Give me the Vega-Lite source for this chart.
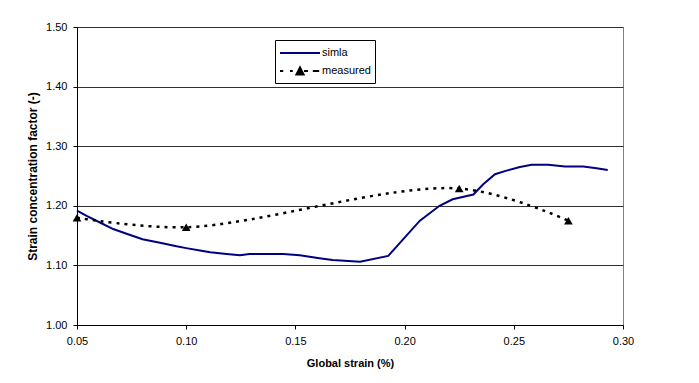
{
  "$schema": "https://vega.github.io/schema/vega-lite/v6.json",
  "width": 546,
  "height": 298,
  "autosize": "none",
  "padding": {"left": 77, "top": 27, "right": 76, "bottom": 58},
  "background": "white",
  "config": {
    "font": "Liberation Sans",
    "view": {"stroke": "#808080", "strokeWidth": 1},
    "axis": {
      "labelFont": "Liberation Sans",
      "labelFontSize": 11,
      "labelColor": "#000000",
      "titleFont": "Liberation Sans",
      "titleFontSize": 11,
      "titleFontWeight": "bold",
      "titleColor": "#000000",
      "domainColor": "#000000",
      "tickColor": "#000000",
      "tickSize": 4,
      "gridColor": "#303030",
      "gridOpacity": 1
    }
  },
  "data": {
    "values": [
      {"strain": 0.050, "factor": 1.192, "series": "simla"},
      {"strain": 0.0544, "factor": 1.183, "series": "simla"},
      {"strain": 0.0605, "factor": 1.172, "series": "simla"},
      {"strain": 0.0666, "factor": 1.161, "series": "simla"},
      {"strain": 0.0727, "factor": 1.153, "series": "simla"},
      {"strain": 0.080, "factor": 1.144, "series": "simla"},
      {"strain": 0.088, "factor": 1.138, "series": "simla"},
      {"strain": 0.0956, "factor": 1.132, "series": "simla"},
      {"strain": 0.100, "factor": 1.129, "series": "simla"},
      {"strain": 0.1063, "factor": 1.125, "series": "simla"},
      {"strain": 0.111, "factor": 1.122, "series": "simla"},
      {"strain": 0.1185, "factor": 1.119, "series": "simla"},
      {"strain": 0.1246, "factor": 1.117, "series": "simla"},
      {"strain": 0.129, "factor": 1.119, "series": "simla"},
      {"strain": 0.1445, "factor": 1.119, "series": "simla"},
      {"strain": 0.152, "factor": 1.117, "series": "simla"},
      {"strain": 0.161, "factor": 1.112, "series": "simla"},
      {"strain": 0.167, "factor": 1.109, "series": "simla"},
      {"strain": 0.1796, "factor": 1.106, "series": "simla"},
      {"strain": 0.1925, "factor": 1.116, "series": "simla"},
      {"strain": 0.1994, "factor": 1.144, "series": "simla"},
      {"strain": 0.207, "factor": 1.175, "series": "simla"},
      {"strain": 0.216, "factor": 1.200, "series": "simla"},
      {"strain": 0.222, "factor": 1.211, "series": "simla"},
      {"strain": 0.2315, "factor": 1.219, "series": "simla"},
      {"strain": 0.236, "factor": 1.236, "series": "simla"},
      {"strain": 0.2414, "factor": 1.253, "series": "simla"},
      {"strain": 0.2467, "factor": 1.259, "series": "simla"},
      {"strain": 0.2528, "factor": 1.265, "series": "simla"},
      {"strain": 0.2582, "factor": 1.269, "series": "simla"},
      {"strain": 0.2658, "factor": 1.269, "series": "simla"},
      {"strain": 0.2734, "factor": 1.266, "series": "simla"},
      {"strain": 0.2818, "factor": 1.266, "series": "simla"},
      {"strain": 0.2879, "factor": 1.263, "series": "simla"},
      {"strain": 0.293, "factor": 1.260, "series": "simla"},
      {"strain": 0.050, "factor": 1.180, "series": "measured"},
      {"strain": 0.100, "factor": 1.164, "series": "measured"},
      {"strain": 0.225, "factor": 1.229, "series": "measured"},
      {"strain": 0.275, "factor": 1.175, "series": "measured"}
    ]
  },
  "encoding": {
    "x": {
      "field": "strain",
      "type": "quantitative",
      "title": "Global strain (%)",
      "scale": {"domain": [0.05, 0.30], "nice": false, "zero": false},
      "axis": {
        "values": [0.05, 0.10, 0.15, 0.20, 0.25, 0.30],
        "format": ".2f",
        "grid": false,
        "labelPadding": 6,
        "titlePadding": 11,
        "labelFlush": false
      }
    },
    "y": {
      "field": "factor",
      "type": "quantitative",
      "title": "Strain concentration factor (-)",
      "scale": {"domain": [1.0, 1.5], "nice": false, "zero": false},
      "axis": {
        "values": [1.0, 1.1, 1.2, 1.3, 1.4, 1.5],
        "format": ".2f",
        "grid": true,
        "labelPadding": 6,
        "titlePadding": 6,
        "titleFontSize": 12,
        "labelFlush": false
      }
    }
  },
  "layer": [
    {
      "transform": [{"filter": "datum.series === 'simla'"}],
      "mark": {"type": "line", "strokeWidth": 2, "interpolate": "linear"},
      "encoding": {
        "color": {
          "field": "series",
          "type": "nominal",
          "scale": {"domain": ["simla", "measured"], "range": ["#000080", "#000000"]},
          "legend": {
            "title": null,
            "orient": "none",
            "legendX": 198,
            "legendY": 13,
            "direction": "vertical",
            "strokeColor": "#000000",
            "fillColor": "#ffffff",
            "padding": 4,
            "symbolSize": 256,
            "symbolStrokeWidth": 2,
            "symbolOffset": 12,
            "labelOffset": 13,
            "rowPadding": 4,
            "labelFont": "Liberation Sans",
            "labelFontSize": 11,
            "labelColor": "#000000",
            "encode": {
              "symbols": {
                "update": {
                  "shape": {"signal": "datum.value === 'measured' ? 'M-2.5,0H-2.1M-1.25,0H-0.9M-0.45,0.45L0,-0.45L0.45,0.45ZM0.5,0H1M1.6,0H2.4' : 'M-2.5,0H2.5'"},
                  "fill": {"signal": "datum.value === 'measured' ? '#000000' : 'transparent'"},
                  "strokeDash": {"value": [1, 0]}
                }
              }
            }
          }
        }
      }
    },
    {
      "transform": [{"filter": "datum.series === 'measured'"}],
      "mark": {"type": "line", "strokeWidth": 2.5, "interpolate": "catmull-rom", "strokeDash": [3, 5], "strokeCap": "butt"},
      "encoding": {
        "color": {"field": "series", "type": "nominal"}
      }
    },
    {
      "transform": [{"filter": "datum.series === 'measured'"}],
      "mark": {"type": "point", "shape": "triangle-up", "filled": true, "size": 75, "color": "#000000", "opacity": 1},
      "encoding": {}
    }
  ]
}
